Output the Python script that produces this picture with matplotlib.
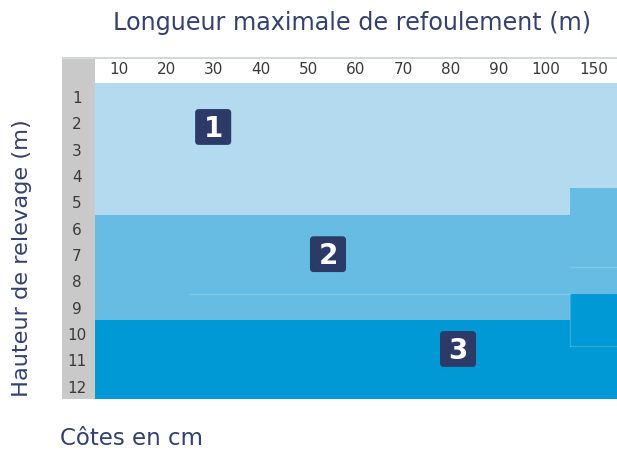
import numpy as np
import matplotlib
matplotlib.use('Agg')
import matplotlib.pyplot as plt
from matplotlib.colors import ListedColormap
from matplotlib.patches import Rectangle, FancyBboxPatch

plt.rcParams['font.family'] = ['DejaVu Sans']

# Longueur de refoulement (colonnes) et hauteur de relevage (lignes)
lengths = ['10', '20', '30', '40', '50', '60', '70', '80', '90', '100', '150']
heights = [str(h) for h in range(1, 13)]

# Dernière hauteur de chaque zone, par colonne
zone1_last = [5, 5, 5, 5, 5, 5, 5, 5, 5, 5, 4]
zone2_last = [9, 9, 9, 9, 9, 9, 9, 9, 9, 9, 8]

zone_labels = ['1', '2', '3']

colors = {
    'zone1': '#b3daee',
    'zone2': '#66bce3',
    'zone3': '#0099d6',
    'navy': '#2b3a67',
    'title': '#34416e',
    'gray': '#c9c9c9',
    'tick': '#3a3a3a',
}

# Matrice des zones (ligne = hauteur, colonne = longueur)
grid = np.zeros((len(heights), len(lengths)), dtype=int)
for j in range(len(lengths)):
    for i, h in enumerate(range(1, len(heights) + 1)):
        if h <= zone1_last[j]:
            grid[i, j] = 0
        elif h <= zone2_last[j]:
            grid[i, j] = 1
        else:
            grid[i, j] = 2

W, H = 617, 452
fig = plt.figure(figsize=(W / 100, H / 100), dpi=100, facecolor='white')

# Colonne grise des hauteurs + bandeau d'en-tête (sous les axes)
fig.add_artist(Rectangle((62 / W, 1 - 400 / H), 33 / W, 342 / H,
                         transform=fig.transFigure, color=colors['gray'], lw=0,
                         zorder=-5))
fig.add_artist(Rectangle((62 / W, 1 - 60 / H), 555 / W, 2.5 / H,
                         transform=fig.transFigure, color='#d4d8dc', lw=0,
                         zorder=-5))

ax = fig.add_axes([95 / W, 1 - 400 / H, 522 / W, 316 / H])
ax.set_zorder(1)
ax.patch.set_alpha(0)
cmap = ListedColormap([colors['zone1'], colors['zone2'], colors['zone3']])
ax.pcolormesh(np.arange(len(lengths) + 1), np.arange(len(heights) + 1), grid,
              cmap=cmap, vmin=0, vmax=2)
ax.set_xlim(0, len(lengths))
ax.set_ylim(len(heights), 0)

# Traits fins entre sous-zones
line_kw = dict(color='white', alpha=0.18, lw=1)
ax.plot([2, 10], [8, 8], **line_kw)
ax.plot([10, 11], [7, 7], **line_kw)
ax.plot([10, 11], [10, 10], **line_kw)
ax.plot([10, 10], [8, 10], **line_kw)

ax.set_xticks(np.arange(len(lengths)) + 0.5)
ax.set_xticklabels(lengths)
ax.xaxis.tick_top()
ax.set_yticks(np.arange(len(heights)) + 0.5)
ax.set_yticklabels(heights)
ax.tick_params(length=0, labelsize=11, colors=colors['tick'])
ax.tick_params(axis='x', pad=5)
ax.tick_params(axis='y', pad=13)
for lbl in ax.get_yticklabels():
    lbl.set_horizontalalignment('center')
for spine in ax.spines.values():
    spine.set_visible(False)

# Numéros de zone
label_pos = [(2.49, 1.67), (4.91, 6.5), (7.65, 10.1)]
for txt, (x, y) in zip(zone_labels, label_pos):
    ax.add_patch(FancyBboxPatch((x - 0.38, y - 0.68), 0.76, 1.36,
                                boxstyle='round,pad=0,rounding_size=0.08',
                                color=colors['navy'], lw=0, mutation_aspect=1.8))
    ax.text(x, y + 0.05, txt, ha='center', va='center', color='white',
            fontsize=20, fontweight='bold')

fig.text(352 / W, 1 - 23 / H, 'Longueur maximale de refoulement (m)',
         ha='center', va='center', fontsize=17.2, color=colors['title'])
fig.text(22 / W, 1 - 258 / H, 'Hauteur de relevage (m)', rotation=90,
         ha='center', va='center', fontsize=16.2, color=colors['title'])
fig.text(60 / W, 1 - 439 / H, 'Côtes en cm', ha='left', va='center',
         fontsize=16.5, color=colors['title'])

fig.savefig('out.png', dpi=100, facecolor='white')
